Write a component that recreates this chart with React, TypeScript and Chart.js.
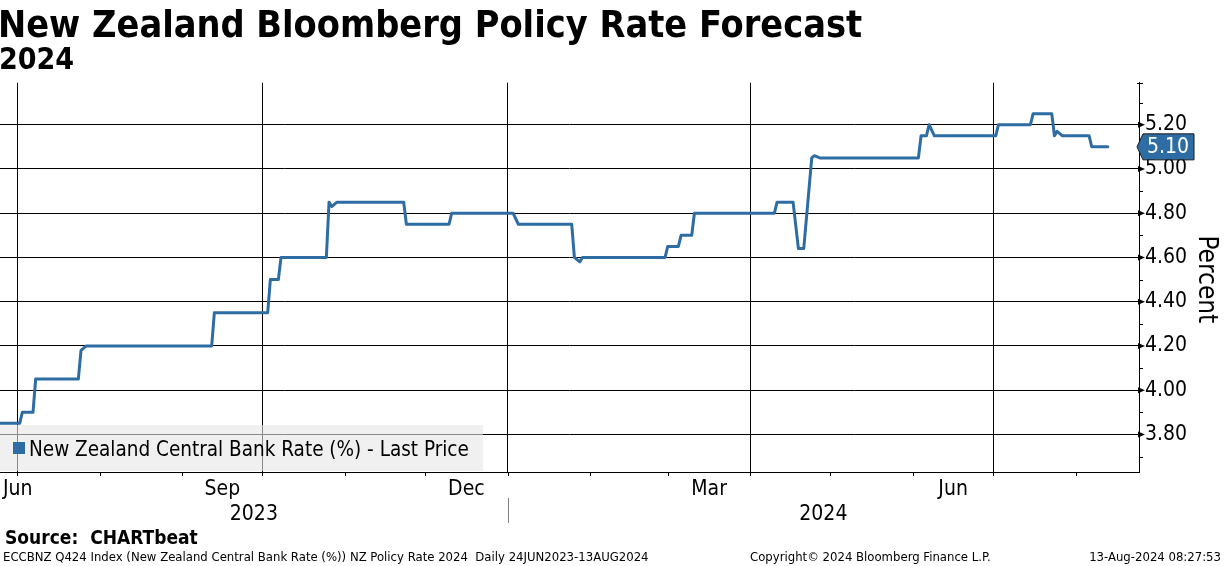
import React, { useEffect, useRef } from "react";
import { Chart, registerables } from "chart.js";

Chart.register(...registerables);

const FONT = "'DejaVu Sans Condensed', 'DejaVu Sans', sans-serif";
const LINE_COLOR = "#2e6da4";

// Series: New Zealand Central Bank Rate (%) - Last Price (breakpoints of the daily series)
const dates = [
  "2023-06-24", "2023-07-02", "2023-07-03", "2023-07-07", "2023-07-08", "2023-07-24",
  "2023-07-25", "2023-07-27", "2023-09-12", "2023-09-13", "2023-10-03", "2023-10-04",
  "2023-10-07", "2023-10-08", "2023-10-25", "2023-10-26", "2023-10-27", "2023-10-29",
  "2023-11-23", "2023-11-24", "2023-12-10", "2023-12-11", "2024-01-03", "2024-01-05",
  "2024-01-25", "2024-01-26", "2024-01-28", "2024-01-29", "2024-02-29", "2024-03-01",
  "2024-03-05", "2024-03-06", "2024-03-10", "2024-03-11", "2024-04-10", "2024-04-11",
  "2024-04-17", "2024-04-19", "2024-04-21", "2024-04-24", "2024-04-25", "2024-04-27",
  "2024-06-03", "2024-06-04", "2024-06-06", "2024-06-07", "2024-06-09", "2024-07-02",
  "2024-07-03", "2024-07-15", "2024-07-16", "2024-07-23", "2024-07-24", "2024-07-25",
  "2024-07-27", "2024-08-06", "2024-08-07", "2024-08-13",
];
const values = [
  3.85, 3.85, 3.9, 3.9, 4.05, 4.05,
  4.18, 4.2, 4.2, 4.35, 4.35, 4.5,
  4.5, 4.6, 4.6, 4.85, 4.83, 4.85,
  4.85, 4.75, 4.75, 4.8, 4.8, 4.75,
  4.75, 4.6, 4.58, 4.6, 4.6, 4.65,
  4.65, 4.7, 4.7, 4.8, 4.8, 4.85,
  4.85, 4.64, 4.64, 5.05, 5.06, 5.05,
  5.05, 5.15, 5.15, 5.2, 5.15, 5.15,
  5.2, 5.2, 5.25, 5.25, 5.15, 5.17,
  5.15, 5.15, 5.1, 5.1,
];
const seriesName = "New Zealand Central Bank Rate (%) - Last Price";

// Axes
const xRange = ["2023-06-24T15:00:00Z", "2024-08-24T17:00:00Z"];
const yRange = [3.63, 5.39];
const yTicks = [3.8, 4.0, 4.2, 4.4, 4.6, 4.8, 5.0, 5.2];
const yMinorTicks = [3.7, 3.9, 4.1, 4.3, 4.5, 4.7, 4.9, 5.1, 5.3];
const yTitle = "Percent";
const monthStarts = [
  "2023-07-01", "2023-08-01", "2023-09-01", "2023-10-01", "2023-11-01", "2023-12-01",
  "2024-01-01", "2024-02-01", "2024-03-01", "2024-04-01", "2024-05-01", "2024-06-01",
  "2024-07-01", "2024-08-01",
];
const gridMonths = ["2023-07-01", "2023-10-01", "2024-01-01", "2024-04-01", "2024-07-01"];
const monthLabels = ["Jun", "Sep", "Dec", "Mar", "Jun"];
const monthLabelStarts = ["2023-06-01", "2023-09-01", "2023-12-01", "2024-03-01", "2024-06-01"];
const monthLabelEnds = ["2023-07-01", "2023-10-01", "2024-01-01", "2024-04-01", "2024-07-01"];
const yearLabels = ["2023", "2024"];
const yearStarts = ["2023-01-01", "2024-01-01"];
const yearEnds = ["2024-01-01", "2025-01-01"];

const ts = (d: string) => Date.parse(d.length === 10 ? d + "T00:00:00Z" : d);

const overlayPlugin = {
  id: "bbgOverlay",
  afterDraw(chart: any) {
    const { ctx, chartArea: ca, scales } = chart;
    const xs = scales.x;
    const ys = scales.y;
    ctx.save();

    // Legend box (semi-transparent)
    ctx.fillStyle = "rgba(230,230,230,0.6)";
    ctx.fillRect(0, 425, 483, ca.bottom - 425 - 1);
    ctx.fillStyle = LINE_COLOR;
    ctx.fillRect(13, 442, 12, 12);
    ctx.fillStyle = "#000";
    ctx.font = `20.5px ${FONT}`;
    ctx.textAlign = "left";
    ctx.textBaseline = "alphabetic";
    ctx.fillText(seriesName, 29, 456);

    // month tick marks
    ctx.strokeStyle = "#000";
    ctx.lineWidth = 1;
    ctx.beginPath();
    for (const m of monthStarts) {
      const px = Math.round(xs.getPixelForValue(ts(m))) + 0.5;
      if (px < ca.left || px > ca.right) continue;
      ctx.moveTo(px, ca.bottom);
      ctx.lineTo(px, ca.bottom + 4);
    }
    ctx.stroke();

    // month labels
    ctx.font = `21px ${FONT}`;
    ctx.fillStyle = "#000";
    ctx.textAlign = "center";
    monthLabels.forEach((lab, i) => {
      const a = Math.max(ca.left, xs.getPixelForValue(ts(monthLabelStarts[i])));
      const b = Math.min(ca.right, xs.getPixelForValue(ts(monthLabelEnds[i])));
      let c = (a + b) / 2;
      const w = ctx.measureText(lab).width;
      if (c - w / 2 < 3) c = 3 + w / 2;
      ctx.fillText(lab, c, 495);
    });

    // year labels
    yearLabels.forEach((lab, i) => {
      const a = Math.max(ca.left, xs.getPixelForValue(ts(yearStarts[i])));
      const b = Math.min(ca.right, xs.getPixelForValue(ts(yearEnds[i])));
      ctx.fillText(lab, (a + b) / 2, 519.5);
    });
    // year separator
    ctx.strokeStyle = "#808080";
    ctx.beginPath();
    const sx = Math.round(xs.getPixelForValue(ts(yearStarts[1]))) + 0.5;
    ctx.moveTo(sx, 498);
    ctx.lineTo(sx, 523);
    ctx.stroke();

    // y minor ticks
    ctx.strokeStyle = "#000";
    ctx.beginPath();
    for (const v of yMinorTicks) {
      const py = Math.round(ys.getPixelForValue(v)) + 0.5;
      ctx.moveTo(ca.right, py);
      ctx.lineTo(ca.right + 4, py);
    }
    const topY = Math.round(ca.top) + 0.5;
    ctx.moveTo(ca.right - 2, topY);
    ctx.lineTo(ca.right + 4, topY);
    ctx.stroke();
    // y major arrow ticks
    ctx.fillStyle = "#000";
    for (const v of yTicks) {
      const py = ys.getPixelForValue(v);
      ctx.beginPath();
      ctx.moveTo(ca.right - 1, py - 3);
      ctx.lineTo(ca.right + 6, py);
      ctx.lineTo(ca.right - 1, py + 3);
      ctx.closePath();
      ctx.fill();
    }

    // y axis title
    ctx.save();
    ctx.translate(1199, (ca.top + ca.bottom) / 2 + 2);
    ctx.rotate(Math.PI / 2);
    ctx.font = `26px ${FONT}`;
    ctx.textAlign = "center";
    ctx.textBaseline = "alphabetic";
    ctx.fillStyle = "#000";
    ctx.fillText(yTitle, 0, 0);
    ctx.restore();

    // last value badge
    const last = values[values.length - 1];
    const vy = ys.getPixelForValue(last);
    const tip = ca.right - 2;
    ctx.beginPath();
    ctx.moveTo(tip, vy);
    ctx.lineTo(tip + 6, vy - 13);
    ctx.lineTo(1194, vy - 13);
    ctx.lineTo(1194, vy + 13);
    ctx.lineTo(tip + 6, vy + 13);
    ctx.closePath();
    ctx.fillStyle = LINE_COLOR;
    ctx.fill();
    ctx.strokeStyle = "#1a1a1a";
    ctx.lineWidth = 1;
    ctx.stroke();
    ctx.fillStyle = "#fff";
    ctx.font = `21px ${FONT}`;
    ctx.textAlign = "left";
    ctx.textBaseline = "middle";
    ctx.fillText(last.toFixed(2), 1147, vy + 1);

    ctx.restore();
  },
};

export default function App() {
  const ref = useRef<HTMLCanvasElement>(null);

  useEffect(() => {
    document.body.style.margin = "0";
    const chart = new Chart(ref.current as HTMLCanvasElement, {
      type: "line",
      data: {
        datasets: [
          {
            label: seriesName,
            data: dates.map((d, i) => ({ x: ts(d), y: values[i] })),
            borderColor: LINE_COLOR,
            backgroundColor: LINE_COLOR,
            borderWidth: 3,
            pointRadius: 0,
            tension: 0,
            borderJoinStyle: "round",
            borderCapStyle: "round",
          },
        ],
      },
      options: {
        animation: false,
        responsive: false,
        maintainAspectRatio: false,
        layout: { padding: { top: 82.7, bottom: 94, left: 0, right: 0 } },
        plugins: { legend: { display: false }, tooltip: { enabled: false } },
        scales: {
          x: {
            type: "linear",
            min: ts(xRange[0]),
            max: ts(xRange[1]),
            afterBuildTicks: (s: any) => {
              s.ticks = gridMonths.map((d) => ({ value: ts(d) }));
            },
            afterFit: (s: any) => {
              s.height = 0;
            },
            ticks: { display: false },
            grid: { color: "#000", lineWidth: 1, drawTicks: false },
            border: { display: true, color: "#000", width: 1 },
          },
          y: {
            type: "linear",
            position: "right",
            min: yRange[0],
            max: yRange[1],
            afterBuildTicks: (s: any) => {
              s.ticks = yTicks.map((v) => ({ value: v }));
            },
            afterFit: (s: any) => {
              s.width = 85;
            },
            ticks: {
              color: "#000",
              font: { family: FONT, size: 21 },
              padding: 6,
              callback: (v: any) => Number(v).toFixed(2),
            },
            grid: { color: "#000", lineWidth: 1, drawTicks: false },
            border: { display: true, color: "#000", width: 1 },
          },
        },
      },
      plugins: [overlayPlugin],
    } as any);
    return () => chart.destroy();
  }, []);

  const base: React.CSSProperties = {
    position: "absolute",
    whiteSpace: "pre",
    lineHeight: "normal",
    color: "#000",
    fontFamily: FONT,
    margin: 0,
  };

  return (
    <div style={{ position: "fixed", left: 0, top: 0, width: 1224, height: 566, background: "#fff", overflow: "hidden" }}>
      <canvas ref={ref} width={1224} height={566} style={{ position: "absolute", left: 0, top: 0 }} />
      <div style={{ ...base, left: -2, top: 2.3, fontSize: 37.5, fontWeight: "bold" }}>
        New Zealand Bloomberg Policy Rate Forecast
      </div>
      <div style={{ ...base, left: -1, top: 41, fontSize: 30, fontWeight: "bold" }}>2024</div>
      <div style={{ ...base, left: 5, top: 526.4, fontSize: 19, fontWeight: "bold", wordSpacing: 6 }}>
        Source: CHARTbeat
      </div>
      <div style={{ ...base, left: 3, top: 548.5, fontSize: 13 }}>
        {"ECCBNZ Q424 Index (New Zealand Central Bank Rate (%)) NZ Policy Rate 2024  Daily 24JUN2023-13AUG2024"}
      </div>
      <div style={{ ...base, left: 750, top: 548.5, fontSize: 13 }}>Copyright© 2024 Bloomberg Finance L.P.</div>
      <div style={{ ...base, right: 3, top: 548.5, fontSize: 13 }}>13-Aug-2024 08:27:53</div>
    </div>
  );
}
